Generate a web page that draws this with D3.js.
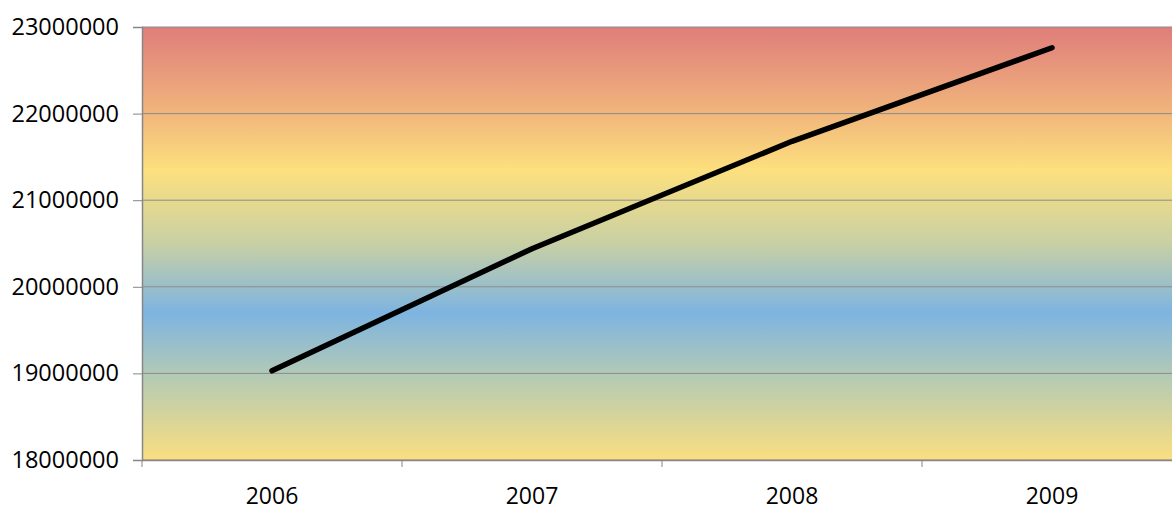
<!DOCTYPE html>
<html>
<head>
<meta charset="utf-8">
<script src="https://cdn.jsdelivr.net/npm/d3@7"></script>
<style>
  body { margin: 0; background: #fff; }
  text { font-family: "Open Sans", sans-serif; }
</style>
</head>
<body>
<div id="container"></div>
<script>
const years = ['2006', '2007', '2008', '2009']
const population = [19030000, 20440000, 21680000, 22760000]
const yTicks = [18000000, 19000000, 20000000, 21000000, 22000000, 23000000]

const W = 1172, H = 512
const margin = { top: 27, right: -10, bottom: 52, left: 142 }
const width = W - margin.left - margin.right
const height = H - margin.top - margin.bottom

const svg = d3.select('#container').append('svg')
  .attr('width', W).attr('height', H)

const defs = svg.append('defs')
const grad = defs.append('linearGradient').attr('id', 'bg')
  .attr('x1', 0).attr('y1', 0).attr('x2', 0).attr('y2', 1)
const stops = [[0, '#df7d7b'], [0.18, '#efb07c'], [0.33, '#fde07e'], [0.5, '#c8d0a4'], [0.66, '#7eb4e1'], [0.82, '#b8ccb0'], [1, '#fbde80']]
stops.forEach(s => grad.append('stop').attr('offset', s[0]).attr('stop-color', s[1]))

const g = svg.append('g').attr('transform', `translate(${margin.left},${margin.top})`)

const x = d3.scaleBand().domain(years).range([0, width])
const y = d3.scaleLinear().domain([18000000, 23000000]).range([height, 0])

g.append('rect').attr('width', width).attr('height', height).attr('fill', 'url(#bg)')

// gridlines
g.selectAll('.grid').data(yTicks).enter().append('line')
  .attr('x1', 0).attr('x2', width)
  .attr('y1', d => y(d)).attr('y2', d => y(d))
  .attr('stroke', '#8c8c8c').attr('stroke-width', 1)

const yAxis = g.append('g')
  .call(d3.axisLeft(y).tickValues(yTicks).tickSize(9).tickPadding(14).tickFormat(d3.format('d')))
yAxis.select('.domain').attr('stroke', '#868686').attr('stroke-width', 1.5)
yAxis.selectAll('.tick line').attr('stroke', '#868686')
yAxis.selectAll('text').attr('font-size', 23.5).attr('fill', '#000')

const xAxis = g.append('g').attr('transform', `translate(0,${height})`)
  .call(d3.axisBottom(x).tickSize(0).tickPadding(28))
xAxis.select('.domain').attr('stroke', '#868686').attr('stroke-width', 1.5)
xAxis.selectAll('text').attr('font-size', 23).attr('fill', '#000')
// category boundary ticks
g.selectAll('.xtick').data(years).enter().append('line')
  .attr('x1', d => x(d)).attr('x2', d => x(d))
  .attr('y1', height).attr('y2', height + 7)
  .attr('stroke', '#868686')

const line = d3.line()
  .x((d, i) => x(years[i]) + x.bandwidth() / 2)
  .y(d => y(d))

g.append('path').datum(population)
  .attr('d', line)
  .attr('fill', 'none')
  .attr('stroke', '#000')
  .attr('stroke-width', 5.5)
  .attr('stroke-linecap', 'round')
  .attr('stroke-linejoin', 'round')
</script>
</body>
</html>
